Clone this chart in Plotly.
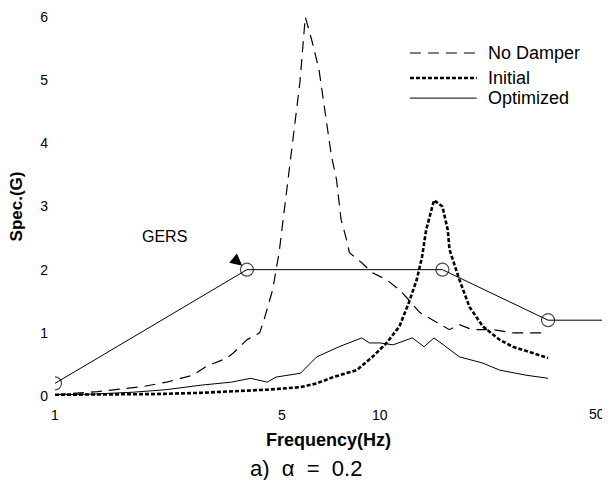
import plotly.graph_objects as go
import math

# GERS envelope
gers_f = [1, 3.9, 15.6, 33, 50]
gers_v = [0.2, 2.0, 2.0, 1.2, 1.2]

# No damper
nd_f = [1, 1.35, 1.87, 2.21, 2.66, 2.93, 3.38, 3.54, 3.9, 4.27, 4.4, 4.68, 4.9, 5.4, 5.68, 5.9,
        6.2, 6.5, 6.76, 7.1, 7.36, 7.6, 7.9, 8.07, 8.8, 9.5, 10.5, 11.5, 12.3, 13.3, 14.6, 16.4,
        17.6, 19.3, 22.3, 25.7, 33]
nd_v = [0.02, 0.07, 0.15, 0.22, 0.33, 0.47, 0.6, 0.68, 0.89, 1.0, 1.2, 1.68, 2.27, 4.0, 4.97, 6.0,
        5.6, 5.17, 4.54, 3.8, 3.43, 2.8, 2.48, 2.27, 2.11, 1.95, 1.84, 1.68, 1.52, 1.32, 1.2, 1.05,
        1.13, 1.05, 1.05, 1.0, 1.0]

# Initial
ini_f = [1, 1.5, 2.0, 2.8, 3.5, 4.5, 5.7, 6.4, 7.2, 8.5, 9.5, 10.5, 11.5, 12.3, 13.0, 13.5, 13.9,
         14.7, 15.6, 16.2, 16.4, 17.6, 18.9, 20.8, 23.4, 25.7, 29.6, 33]
ini_v = [0.02, 0.02, 0.03, 0.05, 0.07, 0.1, 0.14, 0.2, 0.3, 0.41, 0.62, 0.84, 1.1, 1.48, 1.84, 2.2,
         2.63, 3.1, 3.0, 2.63, 2.32, 1.84, 1.41, 1.1, 0.89, 0.78, 0.68, 0.6]

# Optimized
opt_f = [1, 1.3, 1.74, 2.2, 2.8, 3.5, 4.0, 4.5, 4.8, 5.7, 6.4, 7.5, 8.8, 9.3, 10, 11, 12.6, 13.7,
         14.7, 16, 17.6, 20.8, 23.4, 28.2, 33]
opt_v = [0.02, 0.03, 0.06, 0.1, 0.17, 0.22, 0.28, 0.22, 0.3, 0.36, 0.62, 0.78, 0.92, 0.84, 0.84,
         0.81, 0.92, 0.78, 0.92, 0.78, 0.62, 0.52, 0.41, 0.33, 0.28]

x_ticks = [1, 5, 10, 50]
y_ticks = [0, 1, 2, 3, 4, 5, 6]
legend_names = ["No Damper", "Initial", "Optimized"]

styles = [dict(color="black", width=1.2, dash="11px,7px"),
          dict(color="black", width=2.6, dash="4px,2px"),
          dict(color="black", width=1)]

fig = go.Figure()
for f, v, name, st in zip([nd_f, ini_f, opt_f], [nd_v, ini_v, opt_v], legend_names, styles):
    fig.add_trace(go.Scatter(x=f, y=v, name=name, mode="lines", line=st,
                             cliponaxis=False, showlegend=False))
# GERS envelope: circles on the break points, none on the end point
fig.add_trace(go.Scatter(x=gers_f, y=gers_v, name="GERS", mode="lines+markers", showlegend=False,
                         line=dict(color="black", width=1),
                         marker=dict(symbol="circle-open",
                                     size=[13] * (len(gers_f) - 1) + [0],
                                     color="black", line=dict(width=1.2, color="black")),
                         cliponaxis=True))

# manual legend
leg_y = [0.905, 0.839, 0.786]
for name, st, yy in zip(legend_names, styles, leg_y):
    fig.add_shape(type="line", xref="paper", yref="paper", x0=0.643, x1=0.764, y0=yy, y1=yy,
                  line=st)
    fig.add_annotation(x=0.781, y=yy, xref="paper", yref="paper", text=name, showarrow=False,
                       xanchor="left", yanchor="middle",
                       font=dict(family="Arial", size=18, color="black"))

fig.add_annotation(x=0.338, y=2.52, xref="x", yref="y", text="GERS", showarrow=False,
                   font=dict(family="Arial", size=16, color="black"))
fig.add_annotation(x=0.591, y=2.0, xref="x", yref="y", text="", showarrow=True,
                   arrowhead=2, arrowsize=1.2, arrowwidth=2, arrowcolor="black",
                   ax=-12, ay=-10, standoff=6)
fig.add_annotation(x=0.495, y=-0.116, xref="paper", yref="paper", text="<b>Frequency(Hz)</b>",
                   showarrow=False, xanchor="center", yanchor="middle",
                   font=dict(family="Arial", size=18, color="black"))
fig.add_annotation(x=-0.069, y=0.5, xref="paper", yref="paper", text="<b>Spec.(G)</b>",
                   textangle=-90, showarrow=False, xanchor="center", yanchor="middle",
                   font=dict(family="Arial", size=17, color="black"))
fig.add_annotation(x=0.455, y=-0.19, xref="paper", yref="paper", text="a)  α  =  0.2",
                   showarrow=False, xanchor="center", yanchor="middle",
                   font=dict(family="Arial", size=22, color="black"))
# last tick label sits at the right edge of the figure: drawn right-anchored so it stays visible
fig.add_annotation(x=math.log10(x_ticks[-1]), y=0, xref="x", yref="y", text=str(x_ticks[-1]),
                   showarrow=False, xanchor="right", yanchor="top", yshift=-8,
                   font=dict(family="Arial", size=14, color="black"))

fig.update_xaxes(type="log", range=[0, 1.7], tickvals=x_ticks[:-1],
                 ticktext=[str(v) for v in x_ticks[:-1]],
                 showgrid=False, zeroline=False, showline=False, ticks="", automargin=False,
                 ticklabelstandoff=9,
                 tickfont=dict(family="Arial", size=14, color="black"))
fig.update_yaxes(range=[0, 6], tickvals=y_ticks, showgrid=False, zeroline=False, showline=False,
                 ticks="", automargin=False, ticklabelstandoff=6,
                 tickfont=dict(family="Arial", size=14, color="black"))

# page body has an 8px margin: figure sized so the plot area lands where the reference has it
fig.update_layout(width=602, height=472, margin=dict(l=47, r=3, t=9, b=84),
                  plot_bgcolor="white", paper_bgcolor="white", showlegend=False)

fig.write_html("out.html")
